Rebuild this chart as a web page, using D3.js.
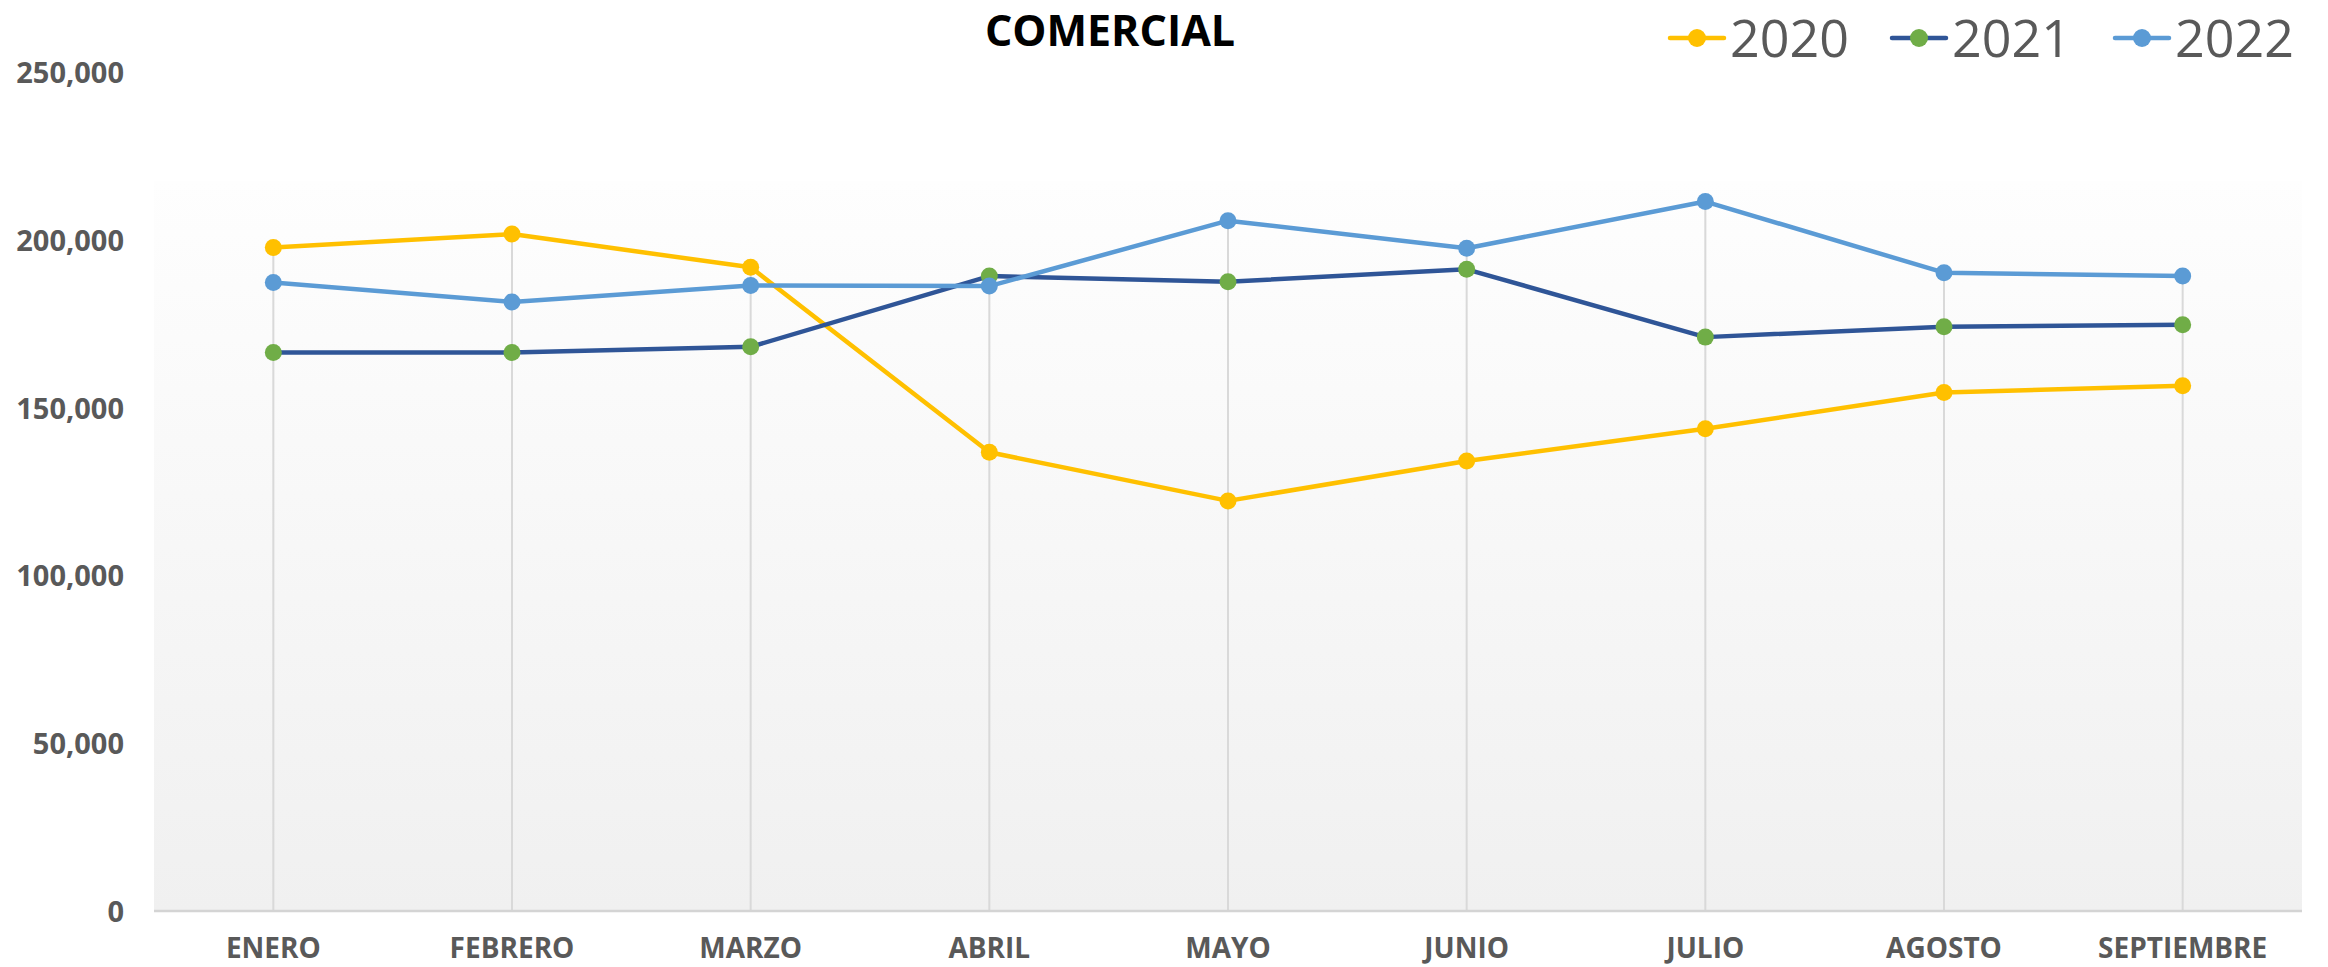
<!DOCTYPE html>
<html>
<head>
<meta charset="utf-8">
<script src="https://cdn.jsdelivr.net/npm/d3@7"></script>
<style>
  html, body { margin: 0; padding: 0; background: #ffffff; }
  svg { display: block; }
</style>
</head>
<body>
<svg id="chart" width="2328" height="967"></svg>
<script>
const categories = ["ENERO", "FEBRERO", "MARZO", "ABRIL", "MAYO", "JUNIO", "JULIO", "AGOSTO", "SEPTIEMBRE"];
const seriesNames = ["2020", "2021", "2022"];
const values2020 = [197700, 201700, 191800, 136700, 122200, 134100, 143700, 154500, 156500];
const values2021 = [166400, 166400, 168100, 189200, 187500, 191200, 171000, 174100, 174700];
const values2022 = [187300, 181500, 186400, 186200, 205700, 197500, 211400, 190200, 189200];
const yTicks = [0, 50000, 100000, 150000, 200000, 250000];
const title = "COMERCIAL";

const lineColors = ["#ffc000", "#2f5597", "#5b9bd5"];
const markerColors = ["#ffc000", "#70ad47", "#5b9bd5"];

const svg = d3.select("#chart");
const plot = { left: 154, right: 2302, top: 181, bottom: 911 };

const x = d3.scaleBand().domain(categories).range([plot.left, plot.right]).padding(0);
const cx = d => x(d) + x.bandwidth() / 2;
const y = d3.scaleLinear().domain([0, 250000]).range([911, 72]);

// gradient background
const defs = svg.append("defs");
const grad = defs.append("linearGradient").attr("id", "bg").attr("x1", 0).attr("y1", 0).attr("x2", 0).attr("y2", 1);
grad.append("stop").attr("offset", "0%").attr("stop-color", "#fefefe");
grad.append("stop").attr("offset", "100%").attr("stop-color", "#f0f0f0");
svg.append("rect")
  .attr("x", plot.left).attr("y", plot.top)
  .attr("width", plot.right - plot.left).attr("height", plot.bottom - plot.top)
  .attr("fill", "url(#bg)");

const series = [values2020, values2021, values2022];

// drop lines
svg.append("g").selectAll("line")
  .data(categories)
  .join("line")
  .attr("x1", d => cx(d)).attr("x2", d => cx(d))
  .attr("y1", (d, i) => y(d3.max(series, s => s[i])))
  .attr("y2", y(0))
  .attr("stroke", "#d9d9d9").attr("stroke-width", 2);

// x axis line
svg.append("line")
  .attr("x1", plot.left).attr("x2", plot.right)
  .attr("y1", y(0)).attr("y2", y(0))
  .attr("stroke", "#d4d4d4").attr("stroke-width", 2.5);

// y axis labels
const yAxis = d3.axisLeft(y).tickValues(yTicks).tickSize(0).tickPadding(0)
  .tickFormat(d3.format(","));
const gy = svg.append("g").attr("transform", "translate(124,0)").call(yAxis);
gy.select(".domain").remove();
gy.selectAll("text")
  .attr("font-family", "'Open Sans', sans-serif")
  .attr("font-weight", "bold")
  .attr("font-size", 29)
  .attr("fill", "#595959")
  .attr("dy", "0.36em");

// x axis labels
const xAxis = d3.axisBottom(x).tickSize(0).tickPadding(0);
const gx = svg.append("g").attr("transform", "translate(0,958)").call(xAxis);
gx.select(".domain").remove();
gx.selectAll("text")
  .attr("font-family", "'Open Sans', sans-serif")
  .attr("font-weight", "bold")
  .attr("font-size", 28)
  .attr("fill", "#595959")
  .attr("dy", 0);

// lines and markers
const line = d3.line().x((d, i) => cx(categories[i])).y(d => y(d));
series.forEach((s, k) => {
  const g = svg.append("g");
  g.append("path")
    .datum(s)
    .attr("d", line)
    .attr("fill", "none")
    .attr("stroke", lineColors[k])
    .attr("stroke-width", 4.5)
    .attr("stroke-linejoin", "round");
  g.selectAll("circle")
    .data(s)
    .join("circle")
    .attr("cx", (d, i) => cx(categories[i]))
    .attr("cy", d => y(d))
    .attr("r", 8.5)
    .attr("fill", markerColors[k]);
});

// title
svg.append("text")
  .attr("x", 1110).attr("y", 46)
  .attr("text-anchor", "middle")
  .attr("font-family", "'Open Sans', sans-serif")
  .attr("font-weight", "bold")
  .attr("font-size", 43)
  .attr("fill", "#000000")
  .text(title);

// legend
const legendX = [1670, 1892, 2115];
const leg = svg.append("g");
seriesNames.forEach((name, k) => {
  const lx = legendX[k];
  leg.append("line")
    .attr("x1", lx).attr("x2", lx + 54)
    .attr("y1", 38).attr("y2", 38)
    .attr("stroke", lineColors[k]).attr("stroke-width", 4.5)
    .attr("stroke-linecap", "round");
  leg.append("circle")
    .attr("cx", lx + 27).attr("cy", 38).attr("r", 9)
    .attr("fill", markerColors[k]);
  leg.append("text")
    .attr("x", lx + 60).attr("y", 57)
    .attr("font-family", "'Open Sans', sans-serif")
    .attr("font-size", 52)
    .attr("fill", "#595959")
    .text(name);
});
</script>
</body>
</html>
